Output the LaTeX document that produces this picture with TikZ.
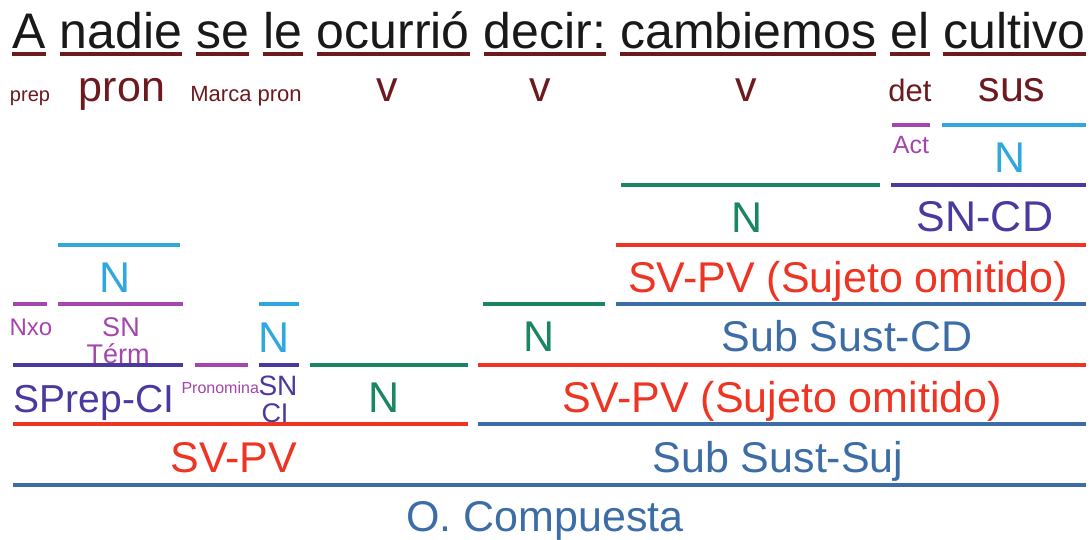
\documentclass[tikz,border=0pt]{standalone}
\usepackage{fontspec}
\setmainfont{Liberation Sans}
\newcommand\fsz[1]{\fontsize{#1}{#1}\selectfont}
\definecolor{cmaroon}{HTML}{6D1A1F}
\definecolor{cred}{HTML}{EE3524}
\definecolor{csteel}{HTML}{3D6DA6}
\definecolor{cgreen}{HTML}{1A8563}
\definecolor{ccyan}{HTML}{2FA7DF}
\definecolor{cpurple}{HTML}{4A3A9F}
\definecolor{cmag}{HTML}{A545AE}
\tikzset{
  word/.style={inner sep=0pt, anchor=base west, font=\fsz{50}, text=black!90},
  ul/.style={line width=4pt, cmaroon},
  postag/.style={inner sep=0pt, anchor=base, text=cmaroon},
  seg/.style={line width=4pt},
  lab/.style={inner sep=0pt, anchor=base, font=\fsz{43}},
}
\begin{document}
\begin{tikzpicture}[x=1pt,y=-1pt]
\useasboundingbox (0,0) rectangle (1092,539);
\fill[white] (0,0) rectangle (1092,539);
% title words
\node[word] (w1) at (12,48) {A};
\node[word] (w2) at ([xshift=13.9pt]w1.base east) {nadie};
\node[word] (w3) at ([xshift=13.9pt]w2.base east) {se};
\node[word] (w4) at ([xshift=13.9pt]w3.base east) {le};
\node[word] (w5) at ([xshift=13.9pt]w4.base east) {ocurrió};
\node[word] (w6) at ([xshift=13.9pt]w5.base east) {decir:};
\node[word] (w7) at ([xshift=13.9pt]w6.base east) {cambiemos};
\node[word] (w8) at ([xshift=13.9pt]w7.base east) {el};
\node[word] (w9) at ([xshift=13.9pt]w8.base east) {cultivo};
\foreach \w in {w1,w2,w3,w4,w5,w6,w7,w8,w9}
  \draw[ul] ([yshift=-6pt]\w.base west) -- ([yshift=-6pt]\w.base east);
% parts of speech
\node[postag, font=\fsz{20}] (p1) at (30,101) {prep};
\node[postag, font=\fsz{43}] (p2) at (122,101) {pron};
\node[postag, font=\fsz{22}] (p3) at (246,101) {Marca pron};
\node[postag, font=\fsz{43}] (p4) at (387,101) {v};
\node[postag, font=\fsz{43}] (p5) at (540,101) {v};
\node[postag, font=\fsz{43}] (p6) at (746,101) {v};
\node[postag, font=\fsz{31}] (p7) at (910,101) {det};
\node[postag, font=\fsz{43}] (p8) at (1012,101) {sus};
% row 125
\draw[seg, cmag] (892,125) -- (930,125);
\node[lab, text=cmag, font=\fsz{25}] (act) at (911,153) {Act};
\draw[seg, ccyan] (942,125) -- (1086,125);
\node[lab, text=ccyan] (n1) at (1010,172) {N};
% row 185
\draw[seg, cgreen] (621,185) -- (880,185);
\node[lab, text=cgreen] (n2) at (747,232) {N};
\draw[seg, cpurple] (891,185) -- (1086,185);
\node[lab, text=cpurple] (sncd) at (985,231) {SN-CD};
% row 245
\draw[seg, ccyan] (58,245) -- (180,245);
\node[lab, text=ccyan] (n3) at (115,292) {N};
\draw[seg, cred] (616,245) -- (1086,245);
\node[lab, text=cred] (svpv1) at (848,292) {SV-PV (Sujeto omitido)};
% row 304
\draw[seg, cmag] (13,304) -- (47,304);
\node[lab, text=cmag, font=\fsz{24}] (nxo) at (31,335) {Nxo};
\draw[seg, cmag] (58,304) -- (183,304);
\node[lab, text=cmag, font=\fsz{27}] (snt) at (121,336) {SN};
\node[lab, text=cmag, font=\fsz{27}] (term) at (118,363) {Térm};
\draw[seg, ccyan] (259,304) -- (299,304);
\node[lab, text=ccyan] (n4) at (274,352) {N};
\draw[seg, cgreen] (483,304) -- (605,304);
\node[lab, text=cgreen] (n5) at (539,351) {N};
\draw[seg, csteel] (616,304) -- (1086,304);
\node[lab, text=csteel] (sscd) at (847,351) {Sub Sust-CD};
% row 365
\draw[seg, cpurple] (13,365) -- (183,365);
\node[lab, text=cpurple, font=\fsz{39}] (sprep) at (94,412) {SPrep-CI};
\draw[seg, cmag] (195,365) -- (248,365);
\node[lab, text=cmag, font=\fsz{16}] (pronom) at (222,393) {Pronominal};
\draw[seg, cpurple] (259,365) -- (299,365);
\node[lab, text=cpurple, font=\fsz{28}, fill=white] (snci) at (278,395) {SN};
\node[lab, text=cpurple, font=\fsz{27}] (ci) at (275,422) {CI};
\draw[seg, cgreen] (310,365) -- (468,365);
\node[lab, text=cgreen] (n6) at (384,412) {N};
\draw[seg, cred] (478,365) -- (1086,365);
\node[lab, text=cred] (svpv2) at (782,412) {SV-PV (Sujeto omitido)};
% row 424
\draw[seg, cred] (13,424) -- (468,424);
\node[lab, text=cred] (svpv3) at (234,472) {SV-PV};
\draw[seg, csteel] (478,424) -- (1086,424);
\node[lab, text=csteel] (sssuj) at (778,472) {Sub Sust-Suj};
% row 485
\draw[seg, csteel] (13,485) -- (1086,485);
\node[lab, text=csteel] (ocomp) at (545,531) {O. Compuesta};
\end{tikzpicture}
\end{document}
